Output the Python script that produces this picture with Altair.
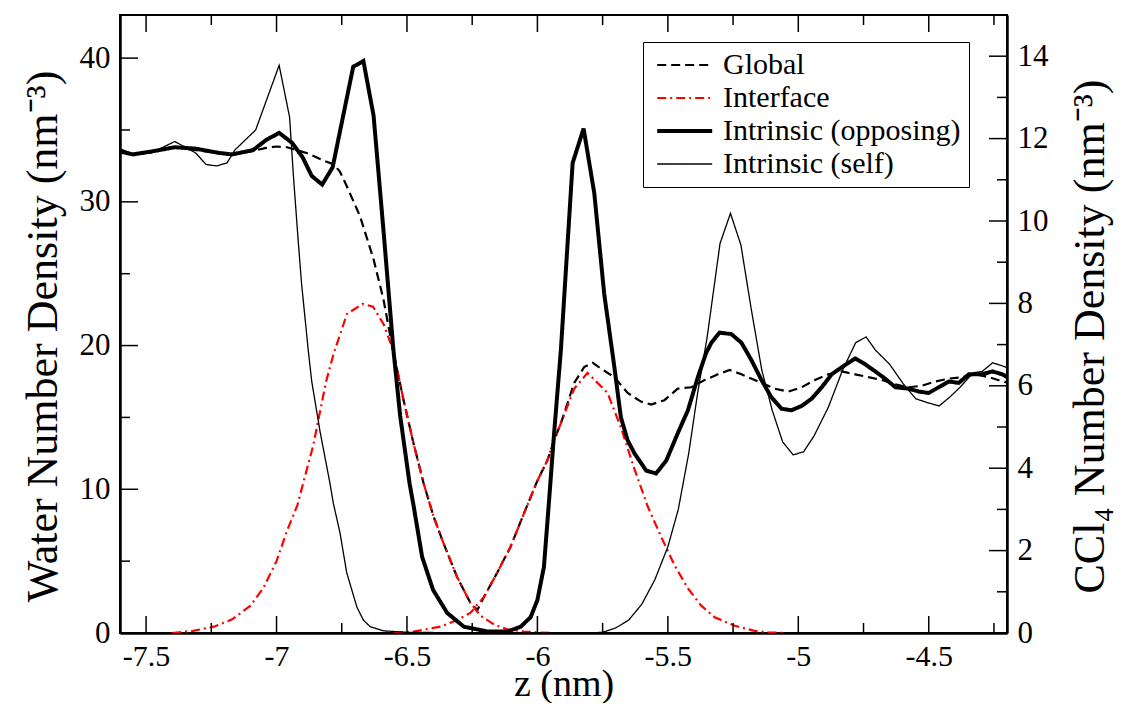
import altair as alt
import pandas as pd

FONT = "Liberation Serif"
W, H = 887, 618

series_names = ["Global", "Interface", "Intrinsic (opposing)", "Intrinsic (self)"]
series_colors = ["black", "#ff0000", "black", "black"]
series_dashes = [[9, 5], [9, 4, 2, 4], [1, 0], [1, 0]]
series_widths = [2.2, 2.2, 4, 1.3]

x_major = [-7.5, -7, -6.5, -6, -5.5, -5, -4.5]
x_minor = [-7.25, -6.75, -6.25, -5.75, -5.25, -4.75, -4.25]
left_major = [0, 10, 20, 30, 40]
left_minor = [5, 15, 25, 35]
right_major = [0, 2, 4, 6, 8, 10, 12, 14]
right_minor = [1, 3, 5, 7, 9, 11, 13]

global_z = [-7.60, -7.55, -7.48, -7.39, -7.31, -7.22, -7.18, -7.10, -7.04, -7.00, -6.96, -6.885,
            -6.81, -6.78, -6.757, -6.731, -6.68, -6.628, -6.59, -6.555, -6.513, -6.475, -6.436,
            -6.398, -6.359, -6.308, -6.257, -6.23, -6.205, -6.154, -6.103, -6.052, -6.00, -5.962,
            -5.936, -5.91, -5.859, -5.821, -5.788, -5.757, -5.705, -5.654, -5.603, -5.564, -5.513,
            -5.462, -5.41, -5.359, -5.308, -5.263, -5.218, -5.167, -5.128, -5.09, -5.038, -4.987,
            -4.936, -4.885, -4.833, -4.782, -4.731, -4.68, -4.628, -4.577, -4.526, -4.475, -4.423,
            -4.372, -4.321, -4.269, -4.218, -4.19]
global_v = [33.6, 33.35, 33.5, 33.8, 33.6, 33.4, 33.3, 33.5, 33.75, 33.85, 33.8, 33.4,
            32.8, 32.6, 32.1, 31.1, 29.0, 26.0, 23.2, 19.8, 16.2, 13.2, 10.4,
            8.1, 6.2, 3.9, 2.1, 1.6, 2.5, 4.2, 6.0, 8.3, 10.6, 12.0,
            13.4, 14.6, 17.4, 18.5, 18.8, 18.4, 17.8, 16.7, 16.1, 15.9, 16.2,
            17.0, 17.1, 17.6, 18.0, 18.3, 18.0, 17.6, 17.3, 17.0, 16.8, 17.1,
            17.6, 18.0, 18.2, 18.0, 17.8, 17.6, 17.3, 17.1, 17.2, 17.5, 17.7,
            17.8, 18.0, 17.8, 17.5, 17.4]

iface_left_z = [-7.40, -7.32, -7.24, -7.17, -7.10, -7.05, -7.00, -6.96, -6.92, -6.885, -6.86,
                -6.84, -6.81, -6.78, -6.73, -6.67, -6.63, -6.59, -6.555, -6.513, -6.475, -6.436,
                -6.398, -6.359, -6.308, -6.257, -6.218, -6.167, -6.115, -6.052, -5.95]
iface_left_v = [0.0, 0.15, 0.44, 0.95, 1.9, 3.15, 5.0, 7.1, 8.9, 11.3, 13.0,
                14.8, 17.5, 19.5, 22.2, 22.9, 22.7, 21.5, 19.8, 16.2, 13.2, 10.4,
                8.1, 6.2, 3.9, 2.1, 1.2, 0.6, 0.25, 0.1, 0.0]

iface_right_z = [-6.55, -6.475, -6.372, -6.308, -6.257, -6.205, -6.154, -6.103, -6.052, -6.00,
                 -5.962, -5.936, -5.91, -5.859, -5.808, -5.731, -5.68, -5.628, -5.577, -5.526,
                 -5.474, -5.423, -5.372, -5.321, -5.244, -5.167, -5.115, -5.05]
iface_right_v = [0.0, 0.1, 0.44, 0.9, 1.4, 2.5, 4.2, 6.0, 8.3, 10.6,
                 12.0, 13.4, 14.6, 17.0, 18.1, 16.7, 14.3, 11.4, 8.8, 6.7,
                 4.7, 3.1, 1.9, 1.1, 0.5, 0.15, 0.05, 0.0]

opp_z = [-7.60, -7.55, -7.48, -7.39, -7.31, -7.22, -7.17, -7.09, -7.04, -6.99, -6.94, -6.90,
         -6.865, -6.825, -6.785, -6.706, -6.667, -6.628, -6.59, -6.552, -6.526, -6.49, -6.475,
         -6.442, -6.40, -6.346, -6.282, -6.19, -6.115, -6.064, -6.026, -6.00, -5.975, -5.955,
         -5.936, -5.91, -5.865, -5.823, -5.782, -5.744, -5.705, -5.68, -5.654, -5.628, -5.583,
         -5.545, -5.506, -5.462, -5.423, -5.385, -5.353, -5.333, -5.302, -5.257, -5.218, -5.18,
         -5.141, -5.103, -5.064, -5.026, -4.987, -4.949, -4.91, -4.872, -4.833, -4.782, -4.744,
         -4.705, -4.667, -4.628, -4.577, -4.538, -4.50, -4.462, -4.423, -4.385, -4.346, -4.295,
         -4.256, -4.218, -4.19]
opp_v = [33.5, 33.3, 33.5, 33.8, 33.7, 33.4, 33.3, 33.6, 34.3, 34.8, 34.1, 33.1,
         31.8, 31.2, 32.4, 39.4, 39.8, 36.0, 28.0, 19.7, 15.1, 10.4, 8.9,
         5.3, 3.0, 1.4, 0.44, 0.1, 0.1, 0.44, 1.1, 2.3, 4.6, 9.3,
         13.9, 19.7, 32.7, 35.1, 30.6, 23.6, 18.5, 15.0, 13.4, 12.5, 11.3,
         11.1, 12.0, 13.9, 15.5, 17.8, 19.5, 20.2, 20.9, 20.8, 20.2, 19.0,
         17.6, 16.4, 15.6, 15.5, 15.8, 16.3, 17.1, 18.0, 18.5, 19.1, 18.7,
         18.2, 17.7, 17.1, 17.0, 16.8, 16.7, 17.1, 17.5, 17.4, 18.0, 18.0,
         18.2, 18.0, 17.7]

self_z = [-7.60, -7.55, -7.48, -7.39, -7.31, -7.27, -7.23, -7.19, -7.16, -7.12, -7.08, -7.04,
          -6.99, -6.95, -6.936, -6.917, -6.904, -6.878, -6.865, -6.833, -6.795, -6.782, -6.757,
          -6.731, -6.705, -6.692, -6.667, -6.641, -6.59, -6.50, -6.20, -5.80, -5.75, -5.70,
          -5.65, -5.60, -5.55, -5.50, -5.46, -5.42, -5.385, -5.35, -5.30, -5.26, -5.22, -5.18,
          -5.14, -5.10, -5.06, -5.02, -4.98, -4.94, -4.885, -4.83, -4.78, -4.74, -4.705, -4.65,
          -4.60, -4.55, -4.50, -4.46, -4.42, -4.38, -4.33, -4.295, -4.255, -4.22, -4.19]
self_v = [33.7, 33.3, 33.4, 34.2, 33.4, 32.6, 32.5, 32.7, 33.6, 34.3, 35.0, 37.0,
          39.5, 35.9, 32.0, 27.3, 24.3, 19.6, 17.5, 14.0, 10.4, 9.0, 7.0,
          4.2, 2.6, 1.8, 0.9, 0.44, 0.15, 0.05, 0.0, 0.0, 0.05, 0.35,
          0.9, 2.0, 3.7, 6.0, 8.6, 12.5, 16.8, 20.5, 27.1, 29.2, 27.0, 22.5,
          18.3, 15.5, 13.3, 12.4, 12.6, 13.7, 15.7, 18.3, 20.2, 20.6, 19.7, 18.7,
          17.4, 16.3, 16.0, 15.8, 16.4, 17.1, 18.1, 18.2, 18.8, 18.6, 18.4]

rows = []
for name, seg, zs, vs in [
    ("Global", "g", global_z, global_v),
    ("Interface", "i1", iface_left_z, iface_left_v),
    ("Interface", "i2", iface_right_z, iface_right_v),
    ("Intrinsic (opposing)", "o", opp_z, opp_v),
    ("Intrinsic (self)", "s", self_z, self_v),
]:
    for z, v in zip(zs, vs):
        rows.append({"series": name, "seg": seg, "z": z, "density": v})
df = pd.DataFrame(rows)

x_scale = alt.Scale(domain=[-7.6, -4.2], nice=False, zero=False)
y_scale = alt.Scale(domain=[0, 43], nice=False)
yr_scale = alt.Scale(domain=[0, 15], nice=False)

common_axis = dict(grid=False, ticks=False, labelFont=FONT, labelColor="black",
                   titleFont=FONT, titleFontWeight="normal", titleColor="black",
                   domainColor="black", domainWidth=2.5, labelOverlap=False, labelFlush=False,
                   labelExpr="'' + datum.value")

x_axis = alt.Axis(title="z (nm)", values=x_major, labelPadding=8, labelFontSize=30,
                  titlePadding=-6, titleFontSize=38, **common_axis)
y_axis = alt.Axis(title="Water Number Density (nm\u207b\u00b3)", values=left_major, labelPadding=10,
                  labelFontSize=31, titlePadding=14, titleFontSize=44, titleY=H / 2 + 12,
                  **common_axis)
yr_axis = alt.Axis(title="CCl\u2084 Number Density (nm\u207b\u00b3)", values=right_major, orient="right",
                   labelPadding=10, labelFontSize=31, titlePadding=64, titleAngle=270,
                   titleFontSize=44, titleY=H / 2 + 12, **common_axis)

legend = alt.Legend(title=None, orient="none", legendX=523, legendY=27,
                    symbolType="M-0.8,0H4.2", symbolSize=484,
                    labelFont=FONT, labelFontSize=30, labelColor="black", labelLimit=500,
                    strokeColor="black", fillColor="white", padding=8, rowPadding=3, labelOffset=42)

lines = alt.Chart(df).mark_line(clip=True).encode(
    x=alt.X("z:Q", scale=x_scale, axis=x_axis),
    y=alt.Y("density:Q", scale=y_scale, axis=y_axis),
    color=alt.Color("series:N", scale=alt.Scale(domain=series_names, range=series_colors),
                    sort=series_names, legend=legend),
    strokeDash=alt.StrokeDash("series:N", scale=alt.Scale(domain=series_names, range=series_dashes),
                              sort=series_names, legend=legend),
    strokeWidth=alt.StrokeWidth("series:O", scale=alt.Scale(type="ordinal", domain=series_names,
                                                            range=series_widths),
                                sort=series_names, legend=legend),
    detail="seg:N",
)

def xticks(vals, y0, y1):
    return alt.Chart(pd.DataFrame({"z": vals})).mark_rule(color="black", strokeWidth=1.5).encode(
        x=alt.X("z:Q", scale=x_scale, axis=x_axis), y=alt.value(y0), y2=alt.value(y1))

def lticks(vals, length):
    return alt.Chart(pd.DataFrame({"density": vals})).mark_rule(color="black", strokeWidth=1.5).encode(
        y=alt.Y("density:Q", scale=y_scale, axis=y_axis), x=alt.value(0), x2=alt.value(length))

def rticks(vals, length):
    return alt.Chart(pd.DataFrame({"r": vals})).mark_rule(color="black", strokeWidth=1.5).encode(
        y=alt.Y("r:Q", scale=yr_scale, axis=yr_axis), x=alt.value(W), x2=alt.value(W - length))

left_part = alt.layer(
    lines,
    xticks(x_major, H, H - 17), xticks(x_minor, H, H - 10),
    xticks(x_major, 0, 17), xticks(x_minor, 0, 10),
    lticks(left_major, 18), lticks(left_minor, 10),
)
right_part = alt.layer(rticks(right_major, 18), rticks(right_minor, 10))

chart = alt.layer(left_part, right_part).resolve_scale(y="independent").properties(
    width=W, height=H,
    autosize=alt.AutoSizeParams(type="none"),
    padding={"left": 112, "top": 7, "right": 110, "bottom": 70},
    background="white",
).configure_view(stroke="black", strokeWidth=2)

chart.save("out.html", embed_options={"renderer": "svg", "actions": False})
